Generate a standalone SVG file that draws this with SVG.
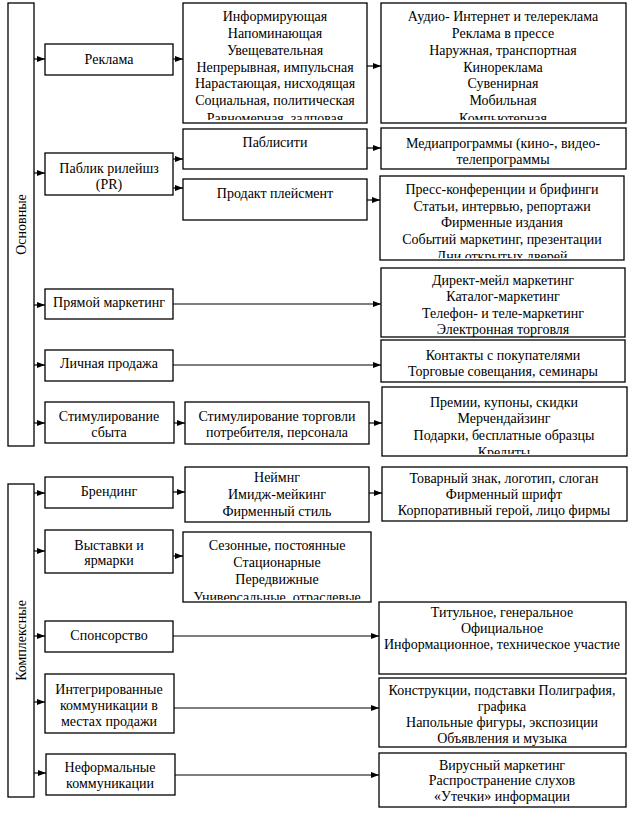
<svg xmlns="http://www.w3.org/2000/svg" width="644" height="817" viewBox="0 0 644 817">
<style>
.b{fill:#fff;stroke:#000;stroke-width:1.3}
.t{font-family:"Liberation Serif","Times New Roman",serif;font-size:14px;fill:#000;text-anchor:middle}
.c{stroke:#000;stroke-width:1.2;fill:none}
</style>
<defs>
<marker id="a" viewBox="0 0 8 8" refX="8" refY="4" markerWidth="8" markerHeight="8" markerUnits="userSpaceOnUse" orient="auto"><path d="M0,1 L8,4 L0,7 Z" fill="#000"/></marker>
<clipPath id="k1"><rect x="183" y="3" width="184" height="117"/></clipPath>
<clipPath id="k2"><rect x="381" y="3" width="245" height="117"/></clipPath>
<clipPath id="k3"><rect x="380" y="176" width="244" height="82"/></clipPath>
<clipPath id="k4"><rect x="382" y="387" width="245" height="67"/></clipPath>
<clipPath id="k5"><rect x="183" y="532" width="188" height="68"/></clipPath>
</defs>
<g id="osnovnye"><rect class="b" x="8" y="3" width="26" height="443"/><text class="t" transform="translate(25.5,224.5) rotate(-90)">Основные</text></g>
<g id="kompleksnye"><rect class="b" x="8" y="484" width="26" height="313"/><text class="t" transform="translate(25.5,640.5) rotate(-90)">Комплексные</text></g>

<g id="reklama"><rect class="b" x="45" y="44" width="128" height="31"/><text class="t" x="109" y="64">Реклама</text></g>
<g id="reklama-vidy"><rect class="b" x="183" y="3" width="184" height="120"/><g clip-path="url(#k1)"><text class="t" x="275" y="21">Информирующая</text><text class="t" x="275" y="37.8">Напоминающая</text><text class="t" x="275" y="54.7">Увещевательная</text><text class="t" x="275" y="71.5">Непрерывная,  импульсная</text><text class="t" x="275" y="88.3">Нарастающая,  нисходящая</text><text class="t" x="275" y="105.2">Социальная, политическая</text><text class="t" x="275" y="122.5">Равномерная, залповая</text></g></g>
<g id="reklama-kanaly"><rect class="b" x="381" y="3" width="245" height="120"/><g clip-path="url(#k2)"><text class="t" x="503" y="21">Аудио- Интернет и телереклама</text><text class="t" x="503" y="37.8">Реклама в прессе</text><text class="t" x="503" y="54.7">Наружная, транспортная</text><text class="t" x="503" y="71.5">Кинореклама</text><text class="t" x="503" y="88.3">Сувенирная</text><text class="t" x="503" y="105.2">Мобильная</text><text class="t" x="503" y="122.5">Компьютерная</text></g></g>

<g id="pr"><rect class="b" x="45" y="153" width="128" height="42"/><text class="t" x="109" y="173">Паблик рилейшз</text><text class="t" x="109" y="189">(PR)</text></g>
<g id="publicity"><rect class="b" x="183" y="129" width="184" height="40"/><text class="t" x="275" y="147">Паблисити</text></g>
<g id="media"><rect class="b" x="381" y="128" width="245" height="41"/><text class="t" x="503" y="148">Медиапрограммы (кино-, видео-</text><text class="t" x="503" y="164">телепрограммы</text></g>
<g id="product"><rect class="b" x="183" y="179" width="184" height="41"/><text class="t" x="275" y="198">Продакт плейсмент</text></g>
<g id="press"><rect class="b" x="380" y="176" width="244" height="84"/><g clip-path="url(#k3)"><text class="t" x="502" y="194">Пресс-конференции и брифинги</text><text class="t" x="502" y="210.5">Статьи, интервью, репортажи</text><text class="t" x="502" y="227">Фирменные издания</text><text class="t" x="502" y="243.5">Событий маркетинг, презентации</text><text class="t" x="502" y="260.5">Дни открытых дверей</text></g></g>

<g id="direct"><rect class="b" x="45" y="289" width="128" height="30"/><text class="t" x="109" y="307">Прямой  маркетинг</text></g>
<g id="direct-vidy"><rect class="b" x="381" y="268" width="244" height="69"/><text class="t" x="503" y="285">Директ-мейл маркетинг</text><text class="t" x="503" y="301">Каталог-маркетинг</text><text class="t" x="503" y="317.5">Телефон- и теле-маркетинг</text><text class="t" x="503" y="334">Электронная торговля</text></g>

<g id="personal"><rect class="b" x="45" y="350" width="128" height="31"/><text class="t" x="109" y="368">Личная продажа</text></g>
<g id="contacts"><rect class="b" x="381" y="340" width="244" height="42"/><text class="t" x="503" y="360">Контакты с покупателями</text><text class="t" x="503" y="376">Торговые совещания, семинары</text></g>

<g id="stim"><rect class="b" x="45" y="402" width="129" height="41"/><text class="t" x="109" y="421">Стимулирование</text><text class="t" x="109" y="437">сбыта</text></g>
<g id="stim-torg"><rect class="b" x="185" y="402" width="184" height="42"/><text class="t" x="277" y="421">Стимулирование торговли</text><text class="t" x="277" y="437">потребителя,  персонала</text></g>
<g id="premii"><rect class="b" x="382" y="387" width="245" height="69"/><g clip-path="url(#k4)"><text class="t" x="504" y="407">Премии, купоны, скидки</text><text class="t" x="504" y="423">Мерчендайзинг</text><text class="t" x="504" y="439.5">Подарки, бесплатные образцы</text><text class="t" x="504" y="456.5">Кредиты</text></g></g>

<g id="brending"><rect class="b" x="45" y="477" width="128" height="31"/><text class="t" x="109" y="496">Брендинг</text></g>
<g id="neiming"><rect class="b" x="185" y="467" width="184" height="55"/><text class="t" x="277" y="482">Неймнг</text><text class="t" x="277" y="499">Имидж-мейкинг</text><text class="t" x="277" y="516">Фирменный стиль</text></g>
<g id="znak"><rect class="b" x="382" y="467" width="245" height="54"/><text class="t" x="504" y="483">Товарный знак, логотип, слоган</text><text class="t" x="504" y="499">Фирменный шрифт</text><text class="t" x="504" y="515">Корпоративный герой, лицо фирмы</text></g>

<g id="vystavki"><rect class="b" x="45" y="530" width="128" height="43"/><text class="t" x="109" y="550">Выставки и</text><text class="t" x="109" y="565">ярмарки</text></g>
<g id="sezon"><rect class="b" x="183" y="532" width="188" height="70"/><g clip-path="url(#k5)"><text class="t" x="277" y="550">Сезонные, постоянные</text><text class="t" x="277" y="567">Стационарные</text><text class="t" x="277" y="584">Передвижные</text><text class="t" x="277" y="602">Универсальные, отраслевые</text></g></g>

<g id="sponsor"><rect class="b" x="45" y="621" width="128" height="31"/><text class="t" x="109" y="640">Спонсорство</text></g>
<g id="titul"><rect class="b" x="379" y="602" width="247" height="72"/><text class="t" x="502" y="617">Титульное, генеральное</text><text class="t" x="502" y="633">Официальное</text><text class="t" x="502" y="649">Информационное, техническое участие</text></g>

<g id="integr"><rect class="b" x="45" y="674" width="129" height="59"/><text class="t" x="109" y="694">Интегрированные</text><text class="t" x="109" y="710">коммуникации в</text><text class="t" x="109" y="726">местах продажи</text></g>
<g id="konstr"><rect class="b" x="379" y="678" width="247" height="69"/><text class="t" x="502" y="695">Конструкции, подставки Полиграфия,</text><text class="t" x="502" y="711">графика</text><text class="t" x="502" y="727">Напольные фигуры, экспозиции</text><text class="t" x="502" y="743">Объявления и музыка</text></g>

<g id="neform"><rect class="b" x="46" y="754" width="129" height="41"/><text class="t" x="110" y="772">Неформальные</text><text class="t" x="110" y="788">коммуникации</text></g>
<g id="virus"><rect class="b" x="379" y="753" width="247" height="54"/><text class="t" x="502" y="770">Вирусный маркетинг</text><text class="t" x="502" y="785">Распространение слухов</text><text class="t" x="502" y="801">«Утечки» информации</text></g>

<g id="connectors">
<path class="c" marker-end="url(#a)" d="M34,59 H45"/>
<path class="c" marker-end="url(#a)" d="M34,173 H45"/>
<path class="c" marker-end="url(#a)" d="M34,305 H45"/>
<path class="c" marker-end="url(#a)" d="M34,365 H45"/>
<path class="c" marker-end="url(#a)" d="M34,423 H45"/>
<path class="c" marker-end="url(#a)" d="M34,493 H45"/>
<path class="c" marker-end="url(#a)" d="M34,551 H45"/>
<path class="c" marker-end="url(#a)" d="M34,636 H45"/>
<path class="c" marker-end="url(#a)" d="M34,702 H45"/>
<path class="c" marker-end="url(#a)" d="M34,773 H46"/>
<path class="c" marker-end="url(#a)" d="M173,59 H183"/>
<path class="c" marker-end="url(#a)" d="M367,66 H381"/>
<path class="c" marker-end="url(#a)" d="M173,159 H183"/>
<path class="c" marker-end="url(#a)" d="M173,188 H183"/>
<path class="c" marker-end="url(#a)" d="M367,148 H381"/>
<path class="c" marker-end="url(#a)" d="M367,200 H380"/>
<path class="c" marker-end="url(#a)" d="M173,304 H381"/>
<path class="c" marker-end="url(#a)" d="M173,365 H381"/>
<path class="c" marker-end="url(#a)" d="M174,423 H185"/>
<path class="c" marker-end="url(#a)" d="M369,423 H382"/>
<path class="c" marker-end="url(#a)" d="M173,492 H185"/>
<path class="c" marker-end="url(#a)" d="M369,493 H382"/>
<path class="c" marker-end="url(#a)" d="M173,556 H183"/>
<path class="c" marker-end="url(#a)" d="M173,636 H379"/>
<path class="c" marker-end="url(#a)" d="M174,708 H379"/>
<path class="c" marker-end="url(#a)" d="M175,775 H379"/>
</g>
</svg>
